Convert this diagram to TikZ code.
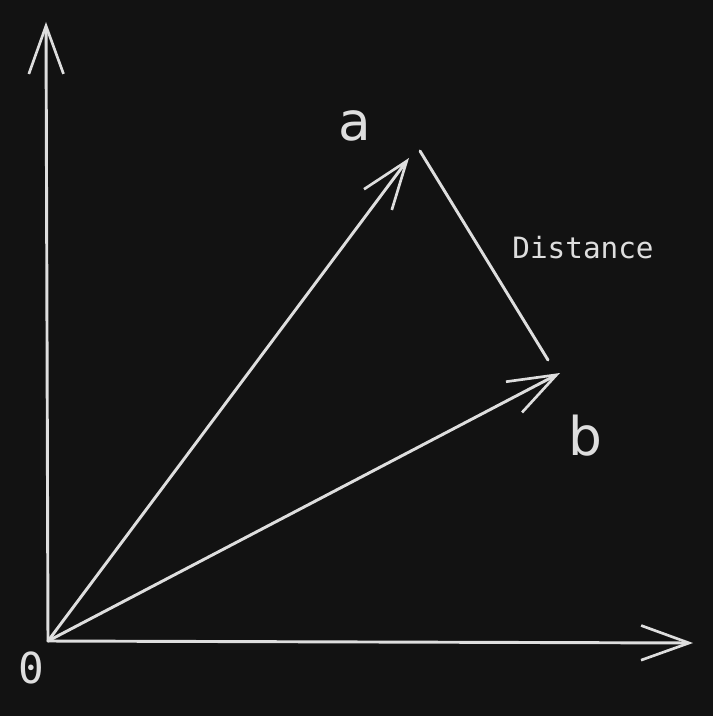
\documentclass[tikz,border=0pt]{standalone}
\usepackage{fontspec}
\setmainfont{DejaVu Sans}
\newfontfamily\monofont{DejaVu Sans Mono}
\usetikzlibrary{arrows.meta}
\definecolor{bgdark}{HTML}{121212}
\definecolor{chalk}{HTML}{DEDEDE}

\begin{document}
\begin{tikzpicture}[x=0.75pt,y=-0.75pt,
  every node/.style={text=chalk,inner sep=0},
  vec/.style={draw=chalk,line width=2.2pt,line cap=round,-{Straight Barb[length=36pt,width=26pt,line width=2pt]}},
  plain/.style={draw=chalk,line width=2.2pt,line cap=round}]

\fill[bgdark] (0,0) rectangle (713,716);
\useasboundingbox (0,0) rectangle (713,716);

% Nodes
\coordinate (origin) at (48,641);
\coordinate (ytop) at (46,22);
\coordinate (xend) at (693,643);
\coordinate (tipa) at (409,158);
\coordinate (tipb) at (560,373);
\coordinate (dstart) at (420,151);
\coordinate (dend) at (548,360);

\node[font=\fontsize{40}{40}\selectfont] (la) at (355,126) {a};
\node[font=\fontsize{40}{40}\selectfont] (lb) at (585,436) {b};
\node[font=\monofont\fontsize{32}{32}\selectfont] (lzero) at (31,668) {0};
\node[font=\monofont\fontsize{22}{22}\selectfont] (ldist) at (583,248) {Distance};

%arcs
\path (origin) edge[vec] (ytop);
\path (origin) edge[vec] (xend);
\path (origin) edge[vec] (tipa);
\path (origin) edge[vec] (tipb);
\path (dstart) edge[plain] (dend);

\end{tikzpicture}
\end{document}
